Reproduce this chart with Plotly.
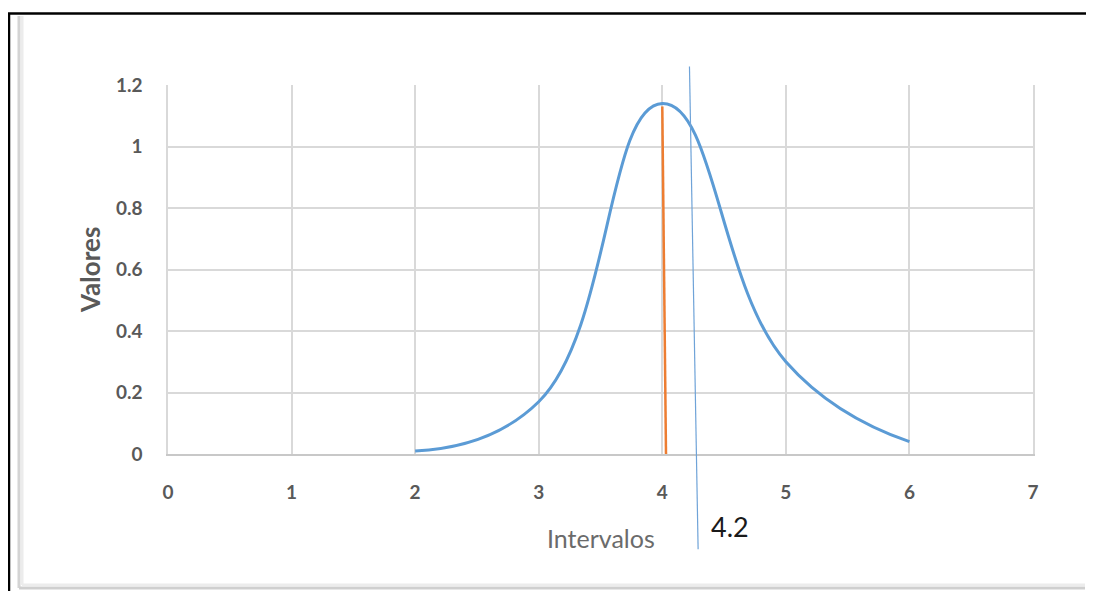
import plotly.graph_objects as go

# ---- data ----
intervalos = [2, 3, 4, 5, 6]
valores = [0.01, 0.17, 1.14, 0.30, 0.04]

media_x = [4.0, 4.03]
media_y = [1.13, 0.0]

ref_x = [4.22, 4.29]
ref_y = [1.26, -0.31]
ref_label = "4.2"

x_ticks = [0, 1, 2, 3, 4, 5, 6, 7]
y_ticks = [0, 0.2, 0.4, 0.6, 0.8, 1.0, 1.2]
y_ticktext = ["0", "0.2", "0.4", "0.6", "0.8", "1", "1.2"]

X_RANGE = [0, 7]
Y_RANGE = [0, 1.2]

# page body has an 8px margin, so the figure is placed at (8, 8)
OFF = 8
W, H = 1094 - 2 * OFF, 599 - 2 * OFF
# plot area in screen pixels: x 168..1033, y 85..454
L = 168 - OFF
T = 85 - OFF
R = W - (1033 - OFF)
B = H - (454 - OFF)
PW, PH = W - L - R, H - T - B


def px_to_paper_x(sx):
    return (sx - OFF - L) / PW


def px_to_paper_y(sy):
    return (H - B - (sy - OFF)) / PH


TICK_COLOR = "#595959"
FONT = "Lato"

fig = go.Figure()

fig.add_trace(go.Scatter(
    x=intervalos, y=valores, mode="lines",
    line=dict(color="#5B9BD5", width=3, shape="spline", smoothing=1.3),
    showlegend=False, hoverinfo="x+y",
))

fig.add_trace(go.Scatter(
    x=media_x, y=media_y, mode="lines",
    line=dict(color="#ED7D31", width=2.5),
    showlegend=False,
))

# hand-drawn reference line (extends beyond plot area vertically)
yspan = Y_RANGE[1] - Y_RANGE[0]
fig.add_shape(
    type="line", xref="x", yref="paper",
    x0=ref_x[0], x1=ref_x[1],
    y0=(ref_y[0] - Y_RANGE[0]) / yspan, y1=(ref_y[1] - Y_RANGE[0]) / yspan,
    line=dict(color="#6FA3D8", width=1.2),
    layer="above",
)

fig.add_annotation(
    x=px_to_paper_x(730), y=px_to_paper_y(526), xref="paper", yref="paper",
    text=ref_label, showarrow=False,
    font=dict(family=FONT, size=27, color="#1a1a1a"),
    xanchor="center", yanchor="middle",
)

# axis titles
fig.add_annotation(
    x=0.5, y=px_to_paper_y(538), xref="paper", yref="paper",
    text="Intervalos", showarrow=False,
    font=dict(family=FONT, size=25, color="#6b6b6b"),
    xanchor="center", yanchor="middle",
)
fig.add_annotation(
    x=px_to_paper_x(90), y=px_to_paper_y(270), xref="paper", yref="paper",
    text="<b>Valores</b>", showarrow=False, textangle=-90,
    font=dict(family=FONT, size=26, color="#595959"),
    xanchor="center", yanchor="middle",
)

# frame: black border + soft inner shadow
fig.add_shape(type="line", xref="paper", yref="paper",
              x0=px_to_paper_x(8), x1=px_to_paper_x(1086),
              y0=px_to_paper_y(13.5), y1=px_to_paper_y(13.5),
              line=dict(color="#000000", width=2.5), layer="above")
fig.add_shape(type="line", xref="paper", yref="paper",
              x0=px_to_paper_x(9), x1=px_to_paper_x(9),
              y0=px_to_paper_y(13), y1=px_to_paper_y(591),
              line=dict(color="#000000", width=2.5), layer="above")
fig.add_shape(type="line", xref="paper", yref="paper",
              x0=px_to_paper_x(19), x1=px_to_paper_x(19),
              y0=px_to_paper_y(16), y1=px_to_paper_y(588),
              line=dict(color="#d4d4d4", width=3), layer="below")
fig.add_shape(type="line", xref="paper", yref="paper",
              x0=px_to_paper_x(22), x1=px_to_paper_x(22),
              y0=px_to_paper_y(16), y1=px_to_paper_y(585),
              line=dict(color="#ececec", width=3), layer="below")
fig.add_shape(type="line", xref="paper", yref="paper",
              x0=px_to_paper_x(19), x1=px_to_paper_x(1085),
              y0=px_to_paper_y(588), y1=px_to_paper_y(588),
              line=dict(color="#cfcfcf", width=3), layer="below")
fig.add_shape(type="line", xref="paper", yref="paper",
              x0=px_to_paper_x(22), x1=px_to_paper_x(1085),
              y0=px_to_paper_y(585), y1=px_to_paper_y(585),
              line=dict(color="#ececec", width=3), layer="below")

fig.update_xaxes(
    range=X_RANGE, tickvals=x_ticks, showgrid=True, gridcolor="#d9d9d9",
    gridwidth=1.5, zeroline=False, showline=True, linecolor="#c8c8c8",
    linewidth=2, ticks="", ticklabelstandoff=20,
    tickfont=dict(family=FONT, size=19, color=TICK_COLOR, weight="bold"),
)
fig.update_yaxes(
    range=Y_RANGE, tickvals=y_ticks, ticktext=y_ticktext, showgrid=True,
    gridcolor="#d9d9d9", gridwidth=1.5, zeroline=False, showline=True,
    linecolor="#d9d9d9", linewidth=1.5, mirror=True,
    ticks="", ticklabelstandoff=20,
    tickfont=dict(family=FONT, size=19, color=TICK_COLOR, weight="bold"),
)

fig.update_layout(
    width=W, height=H,
    margin=dict(l=L, r=R, t=T, b=B, pad=0),
    paper_bgcolor="white", plot_bgcolor="white",
    showlegend=False,
)

fig.write_html("out.html")
